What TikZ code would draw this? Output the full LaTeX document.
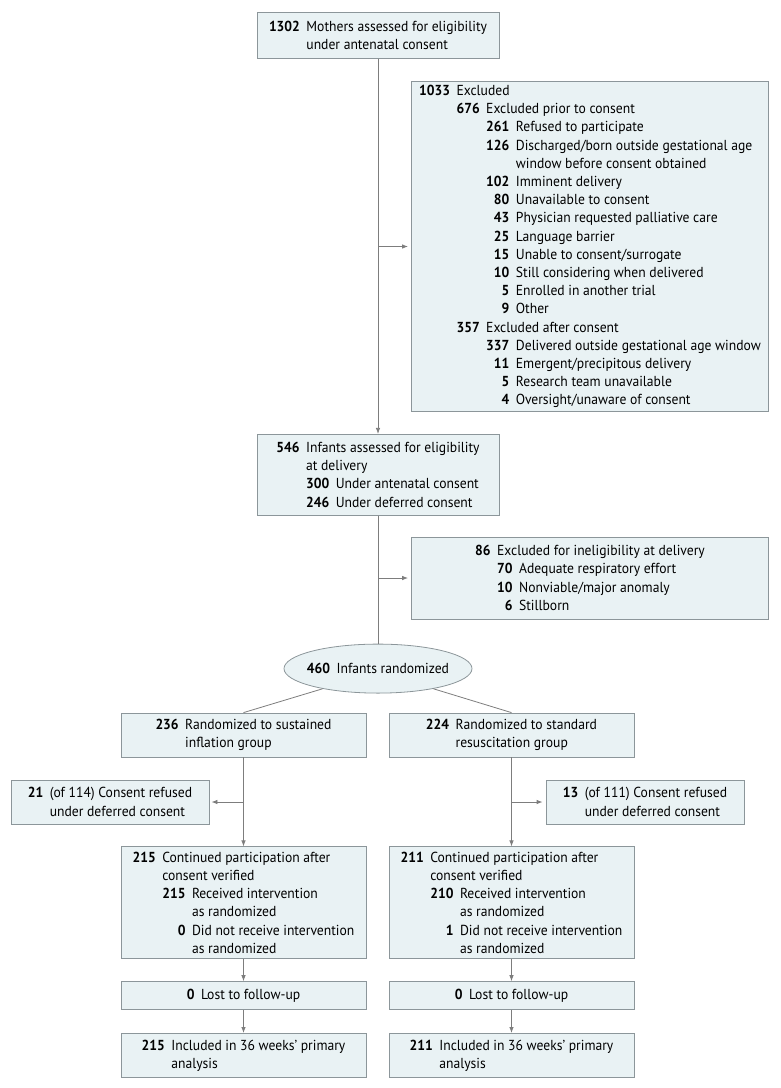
\documentclass[tikz,border=0pt]{standalone}
\usepackage{fontspec}
\setmainfont{PT Sans}[FakeStretch=0.94]
\usepackage{tikz}
\usetikzlibrary{positioning, arrows.meta, shapes.geometric}
\definecolor{boxfill}{RGB}{233,242,244}
\definecolor{boxline}{RGB}{140,150,154}
\definecolor{lineclr}{RGB}{125,125,125}
\newlength{\gp}\setlength{\gp}{6.5pt}
\newcommand{\nb}[2]{\phantom{\bfseries #1}\llap{\bfseries #2}\hspace*{\gp}}
\newcommand{\ind}[1]{\phantom{\bfseries #1}\hspace*{\gp}}

\begin{document}
\begin{tikzpicture}[x=1pt, y=-1pt, >={Latex[length=6pt,width=4.5pt]},
	flowbox/.style={draw=boxline, fill=boxfill, line width=0.8pt, align=left,
		inner sep=3pt, font=\fontsize{14.5}{18.2}\selectfont},
	randoval/.style={ellipse, draw=boxline, fill=boxfill, line width=0.8pt,
		inner sep=0pt, minimum width=188pt, minimum height=49pt,
		font=\fontsize{14.5}{18.2}\selectfont},
	conn/.style={draw=lineclr, line width=0.8pt}]
			\useasboundingbox (0,0) rectangle (780,1088);
			
			\node[flowbox, minimum width=242pt, minimum height=46pt] (m1) at (378,35.5)
				{\nb{0000}{1302}Mothers assessed for eligibility\\
				 \ind{0000}under antenatal consent};
			\node[flowbox, minimum width=357pt, minimum height=330pt] (ex1) at (590,246.5)
				{\nb{0000}{1033}Excluded\\
				 \ind{0000}\nb{000}{676}Excluded prior to consent\\
				 \ind{0000}\ind{000}\nb{000}{261}Refused to participate\\
				 \ind{0000}\ind{000}\nb{000}{126}Discharged/born outside gestational age\\
				 \ind{0000}\ind{000}\ind{000}window before consent obtained\\
				 \ind{0000}\ind{000}\nb{000}{102}Imminent delivery\\
				 \ind{0000}\ind{000}\nb{000}{80}Unavailable to consent\\
				 \ind{0000}\ind{000}\nb{000}{43}Physician requested palliative care\\
				 \ind{0000}\ind{000}\nb{000}{25}Language barrier\\
				 \ind{0000}\ind{000}\nb{000}{15}Unable to consent/surrogate\\
				 \ind{0000}\ind{000}\nb{000}{10}Still considering when delivered\\
				 \ind{0000}\ind{000}\nb{000}{5}Enrolled in another trial\\
				 \ind{0000}\ind{000}\nb{000}{9}Other\\
				 \ind{0000}\nb{000}{357}Excluded after consent\\
				 \ind{0000}\ind{000}\nb{000}{337}Delivered outside gestational age window\\
				 \ind{0000}\ind{000}\nb{000}{11}Emergent/precipitous delivery\\
				 \ind{0000}\ind{000}\nb{000}{5}Research team unavailable\\
				 \ind{0000}\ind{000}\nb{000}{4}Oversight/unaware of consent};
			\node[flowbox, minimum width=242pt, minimum height=81pt, below=375pt of m1] (m2)
				{\nb{000}{546}Infants assessed for eligibility\\
				 \ind{000}at delivery\\
				 \ind{000}\nb{000}{300}Under antenatal consent\\
				 \ind{000}\nb{000}{246}Under deferred consent};
			\node[flowbox, minimum width=357pt, minimum height=82pt] (ex2) at (590,578)
				{\nb{00}{86}Excluded for ineligibility at delivery\\
				 \ind{00}\nb{00}{70}Adequate respiratory effort\\
				 \ind{00}\nb{00}{10}Nonviable/major anomaly\\
				 \ind{00}\nb{00}{6}Stillborn};
			\node[randoval, below=128pt of m2] (rand)
				{\makebox[110pt][c]{\nb{000}{460}Infants randomized}};
			
			% the two arms
			\node[flowbox, minimum width=245pt, minimum height=44pt] (g1) at (243.5,735)
				{\nb{000}{236}Randomized to sustained\\
				 \ind{000}inflation group};
			\node[flowbox, minimum width=245pt, minimum height=44pt] (g2) at (511.5,735)
				{\nb{000}{224}Randomized to standard\\
				 \ind{000}resuscitation group};
			\node[flowbox, minimum width=198pt, minimum height=44pt] (rf1) at (110,802)
				{\nb{00}{21}(of 114) Consent refused\\
				 \ind{00}under deferred consent};
			\node[flowbox, minimum width=198pt, minimum height=44pt] (rf2) at (645,802)
				{\nb{00}{13}(of 111) Consent refused\\
				 \ind{00}under deferred consent};
			\node[flowbox, minimum width=245pt, minimum height=112pt, below=89pt of g1] (c1)
				{\nb{000}{215}Continued participation after\\
				 \ind{000}consent verified\\
				 \ind{000}\nb{000}{215}Received intervention\\
				 \ind{000}\ind{000}as randomized\\
				 \ind{000}\nb{000}{0}Did not receive intervention\\
				 \ind{000}\ind{000}as randomized};
			\node[flowbox, minimum width=245pt, minimum height=112pt, below=89pt of g2] (c2)
				{\nb{000}{211}Continued participation after\\
				 \ind{000}consent verified\\
				 \ind{000}\nb{000}{210}Received intervention\\
				 \ind{000}\ind{000}as randomized\\
				 \ind{000}\nb{000}{1}Did not receive intervention\\
				 \ind{000}\ind{000}as randomized};
			\node[flowbox, minimum width=245pt, minimum height=28pt, below=22pt of c1] (l1)
				{\nb{0}{0}Lost to follow-up};
			\node[flowbox, minimum width=245pt, minimum height=28pt, below=22pt of c2] (l2)
				{\nb{0}{0}Lost to follow-up};
			\node[flowbox, minimum width=245pt, minimum height=44pt, below=23pt of l1] (i1)
				{\nb{000}{215}Included in 36 weeks' primary\\
				 \ind{000}analysis};
			\node[flowbox, minimum width=245pt, minimum height=44pt, below=23pt of l2] (i2)
				{\nb{000}{211}Included in 36 weeks' primary\\
				 \ind{000}analysis};
			
			\coordinate (j1) at (m1 |- ex1);
			\coordinate (j2) at (m2 |- ex2);
			\coordinate (j3) at (g1 |- rf1);
			\coordinate (j4) at (g2 |- rf2);
			
			\draw[conn, ->] (m1) -- (m2);
			\draw[conn, ->, shorten >=3pt] (j1) -- (ex1);
			\draw[conn] (m2) -- (rand);
			\draw[conn, ->, shorten >=3pt] (j2) -- (ex2);
			\draw[conn] (rand.200) -- (g1.north);
			\draw[conn] (rand.340) -- (g2.north);
			\draw[conn, ->] (g1) -- (c1);
			\draw[conn, ->] (g2) -- (c2);
			\draw[conn, ->, shorten >=2pt] (j3) -- (rf1);
			\draw[conn, ->, shorten >=3pt] (j4) -- (rf2);
			\draw[conn, ->] (c1) -- (l1);
			\draw[conn, ->] (c2) -- (l2);
			\draw[conn, ->] (l1) -- (i1);
			\draw[conn, ->] (l2) -- (i2);
		\end{tikzpicture}
\end{document}
